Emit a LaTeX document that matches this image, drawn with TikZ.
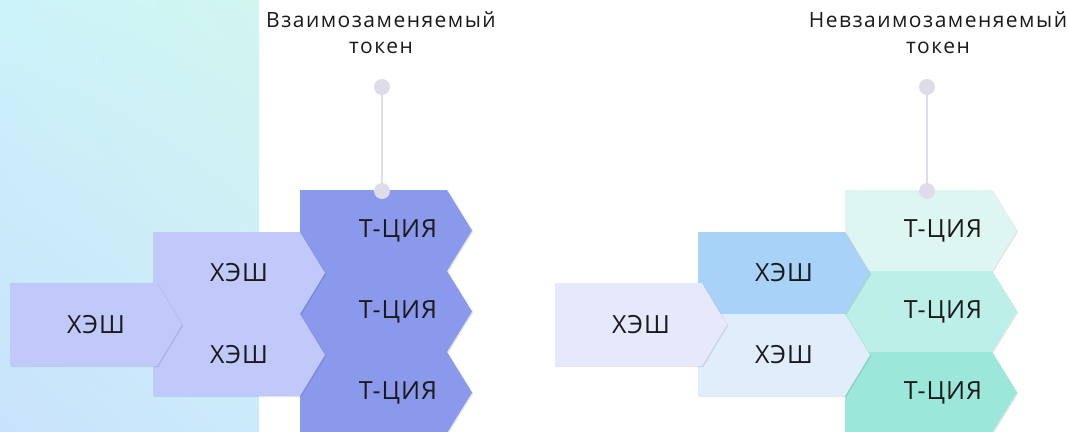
\documentclass[tikz,border=0pt]{standalone}
\usepackage{fontspec}
\setmainfont{Open Sans}
\newfontfamily\wide[LetterSpace=4]{Open Sans}
\newfontfamily\wider[LetterSpace=7]{Open Sans}
\usetikzlibrary{shadows,shadings}

\definecolor{bgUL}{HTML}{CCF3FA}
\definecolor{bgUR}{HTML}{D1F6EF}
\definecolor{bgLL}{HTML}{C8E2FB}
\definecolor{bgLR}{HTML}{CBEBFB}
\definecolor{hashA}{HTML}{C0C9FA}
\definecolor{txA}{HTML}{8A99EC}
\definecolor{hashB}{HTML}{E6E8FB}
\definecolor{hashC}{HTML}{A8D2F7}
\definecolor{hashD}{HTML}{E0EEFB}
\definecolor{txB}{HTML}{DDF6F2}
\definecolor{txC}{HTML}{BCEFE7}
\definecolor{txD}{HTML}{9BE8DA}
\definecolor{pinclr}{HTML}{DCDDE9}
\definecolor{ink}{HTML}{1A1A1A}

\tikzset{
    box shadow/.style={drop shadow={shadow xshift=1.2pt, shadow yshift=-1pt, opacity=0.10, fill=black}},
    box text/.style={text=ink, font=\wide\fontsize{25}{28}\selectfont, inner sep=0pt},
    title text/.style={text=ink, font=\wider\fontsize{21}{26}\selectfont, align=center, inner sep=0pt},
    pin dot/.style={circle, fill=pinclr, minimum size=16pt, inner sep=0pt},
    pin line/.style={draw=pinclr, line width=2pt}
}

% стрелка: имя, x, y, высота, цвет, сдвиг текста, текст
\newcommand{\strelka}[7]{%
    \fill[#5, box shadow] (#2,#3) -- ++(147,0) -- ++(25,#4/2) -- ++(-25,#4/2) -- ++(-147,0) -- cycle;
    \node[box text] (#1) at ({#2+86+#6},{#3+#4/2}) {#7};
}

\begin{document}
\begin{tikzpicture}[x=1pt, y=-1pt]
    \useasboundingbox (0,0) rectangle (1068,431);

    % Фон слева
    \shade[upper left=bgUL, upper right=bgUR, lower left=bgLL, lower right=bgLR] (0,0) rectangle (259,431);

    % Взаимозаменяемый токен
    \foreach \i/\y in {1/190, 2/271, 3/352} {
        \strelka{ta\i}{300}{\y}{81}{txA}{12}{Т-ЦИЯ}
    }
    \strelka{ha1}{153}{232}{82}{hashA}{0}{ХЭШ}
    \strelka{ha2}{153}{314}{82}{hashA}{0}{ХЭШ}
    \strelka{ha0}{10}{283}{83}{hashA}{0}{ХЭШ}

    % Невзаимозаменяемый токен
    \strelka{tb1}{845}{190}{81}{txB}{12}{Т-ЦИЯ}
    \strelka{tb2}{845}{271}{81}{txC}{12}{Т-ЦИЯ}
    \strelka{tb3}{845}{352}{81}{txD}{12}{Т-ЦИЯ}
    \strelka{hb1}{698}{232}{82}{hashC}{0}{ХЭШ}
    \strelka{hb2}{698}{314}{82}{hashD}{0}{ХЭШ}
    \strelka{hb0}{555}{283}{83}{hashB}{0}{ХЭШ}

    % Выноски
    \node[pin dot] (pinA) at (382,87) {};
    \node[pin dot] (baseA) at (382,191) {};
    \draw[pin line] (pinA) -- (baseA);
    \node[pin dot] (pinB) at (927,87) {};
    \node[pin dot] (baseB) at (927,191) {};
    \draw[pin line] (pinB) -- (baseB);

    \node[title text] (titleA) at (381,33) {Взаимозаменяемый\\токен};
    \node[title text] (titleB) at (938,33) {Невзаимозаменяемый\\токен};
\end{tikzpicture}
\end{document}
